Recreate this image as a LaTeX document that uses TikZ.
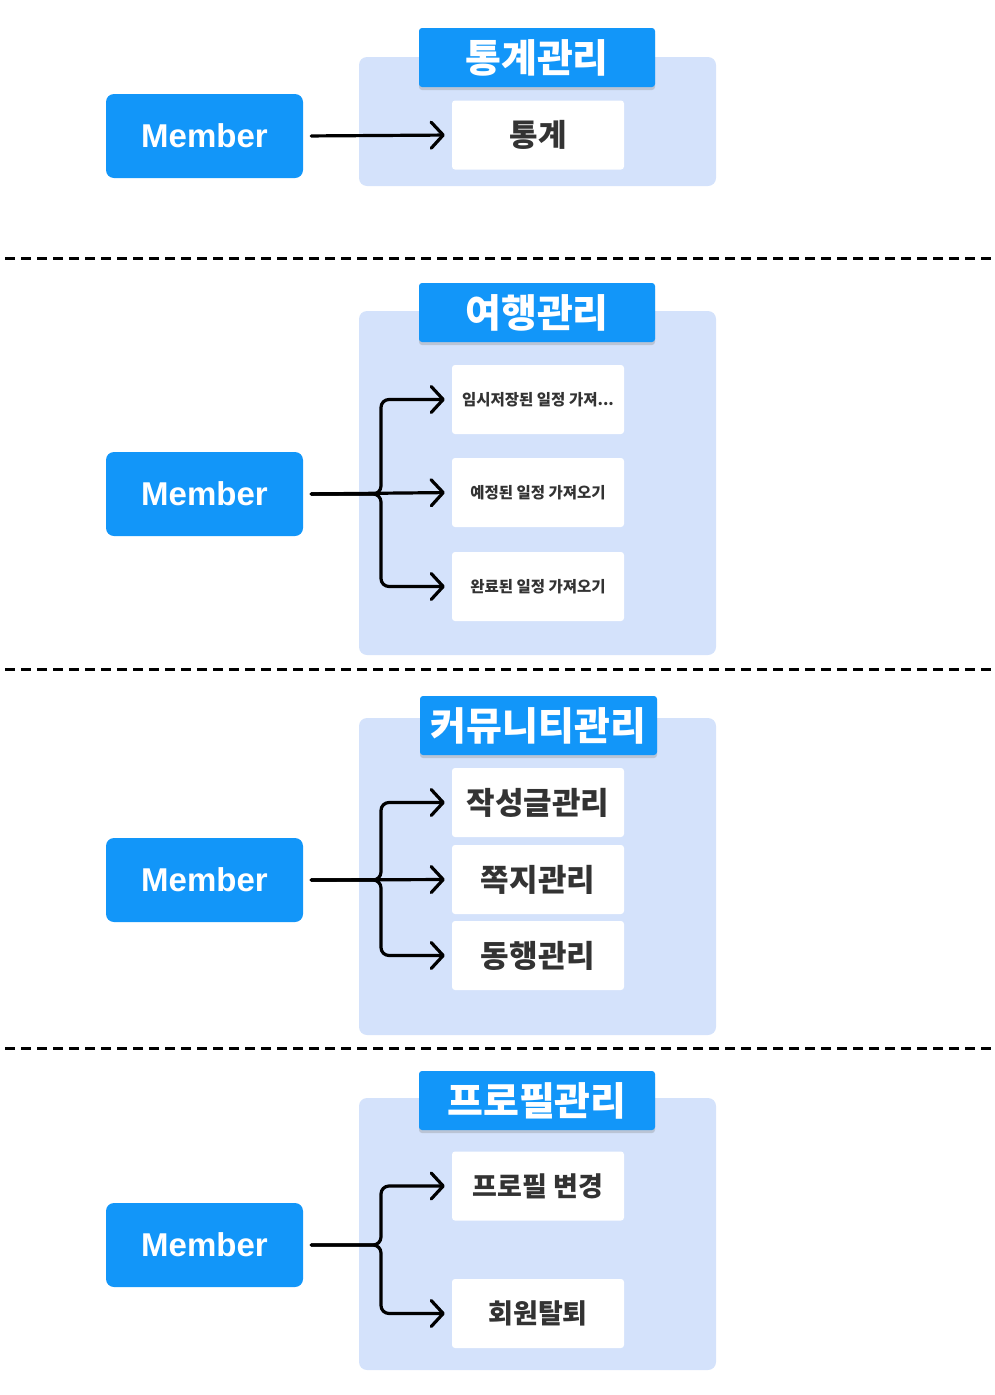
\documentclass[tikz,border=0pt]{standalone}
\usepackage{fontspec}
\newfontfamily\kr{Noto Sans CJK KR}
\newfontfamily\lat{Liberation Sans}
\usetikzlibrary{arrows.meta,shadows}
\definecolor{mblue}{HTML}{1296F9}
\definecolor{lblue}{HTML}{D4E2FB}
\definecolor{tdark}{HTML}{333333}
\begin{document}
\begin{tikzpicture}[x=1pt,y=-1pt,
  member/.style={fill=mblue, rounded corners=8pt, minimum width=197pt, minimum height=84pt, inner sep=0pt, text=white, font=\lat\bfseries\fontsize{33}{37}\selectfont},
  cont/.style={fill=lblue, rounded corners=8pt, inner sep=0pt, minimum width=357pt},
  head/.style={fill=mblue, rounded corners=3pt, minimum width=236pt, minimum height=59pt, inner sep=0pt, text=white, font=\kr\bfseries\fontsize{39}{43}\selectfont, drop shadow={opacity=0.3, shadow xshift=0pt, shadow yshift=-3pt}},
  item/.style={fill=white, rounded corners=3pt, minimum width=172pt, minimum height=69pt, inner sep=0pt, text=tdark, font=\kr\bfseries\fontsize{31}{35}\selectfont},
  miditem/.style={item, font=\kr\bfseries\fontsize{27}{31}\selectfont},
  smallitem/.style={item, font=\kr\bfseries\fontsize{15.5}{18}\selectfont},
  arr/.style={line width=3.2pt, line cap=round, -{Straight Barb[length=12pt,width=26pt,round]}, rounded corners=8pt, shorten <=8pt, shorten >=7pt},
  sep/.style={line width=3pt, dash pattern=on 10pt off 6pt}
]
\useasboundingbox (0,0) rectangle (995,1395);

% Section 1
\node[cont, minimum height=129pt] (c1) at (537.5,121.5) {};
\node[head] (h1) at (537,57.5) {통계관리};
\node[item] (t11) at (538,135) {통계};
\node[member] (m1) at (204.5,136) {Member};
\draw[arr] (m1.east) -- (t11.west);

\coordinate (d1a) at (5,258);
\coordinate (d1b) at (992,258);
\draw[sep] (d1a) -- (d1b);

% Section 2
\node[cont, minimum height=344pt] (c2) at (537.5,483) {};
\node[head] (h2) at (537,312.5) {여행관리};
\node[smallitem] (t21) at (538,399.5) {임시저장된 일정 가져...};
\node[smallitem] (t22) at (538,492.5) {예정된 일정 가져오기};
\node[smallitem] (t23) at (538,586.5) {완료된 일정 가져오기};
\node[member] (m2) at (204.5,494) {Member};
\coordinate (j2) at (381,494);
\draw[arr] (m2.east) -- (j2) |- (t21.west);
\draw[arr] (m2.east) -- (j2) |- (t23.west);
\draw[arr] (m2.east) -- (t22.west);

\coordinate (d2a) at (5,669);
\coordinate (d2b) at (992,669);
\draw[sep] (d2a) -- (d2b);

% Section 3
\node[cont, minimum height=317pt] (c3) at (537.5,876.5) {};
\node[head, minimum width=237pt] (h3) at (538.5,725.5) {커뮤니티관리};
\node[item] (t31) at (538,802.5) {작성글관리};
\node[item] (t32) at (538,879.5) {쪽지관리};
\node[item] (t33) at (538,955.5) {동행관리};
\node[member] (m3) at (204.5,880) {Member};
\coordinate (j3) at (381,880);
\draw[arr] (m3.east) -- (j3) |- (t31.west);
\draw[arr] (m3.east) -- (j3) |- (t33.west);
\draw[arr] (m3.east) -- (t32.west);

\coordinate (d3a) at (5,1048);
\coordinate (d3b) at (992,1048);
\draw[sep] (d3a) -- (d3b);

% Section 4
\node[cont, minimum height=272pt] (c4) at (537.5,1234) {};
\node[head] (h4) at (537,1100.5) {프로필관리};
\node[miditem] (t41) at (538,1186) {프로필 변경};
\node[miditem] (t42) at (538,1313.5) {회원탈퇴};
\node[member] (m4) at (204.5,1245) {Member};
\coordinate (j4) at (381,1245);
\draw[arr] (m4.east) -- (j4) |- (t41.west);
\draw[arr] (m4.east) -- (j4) |- (t42.west);
\end{tikzpicture}
\end{document}
